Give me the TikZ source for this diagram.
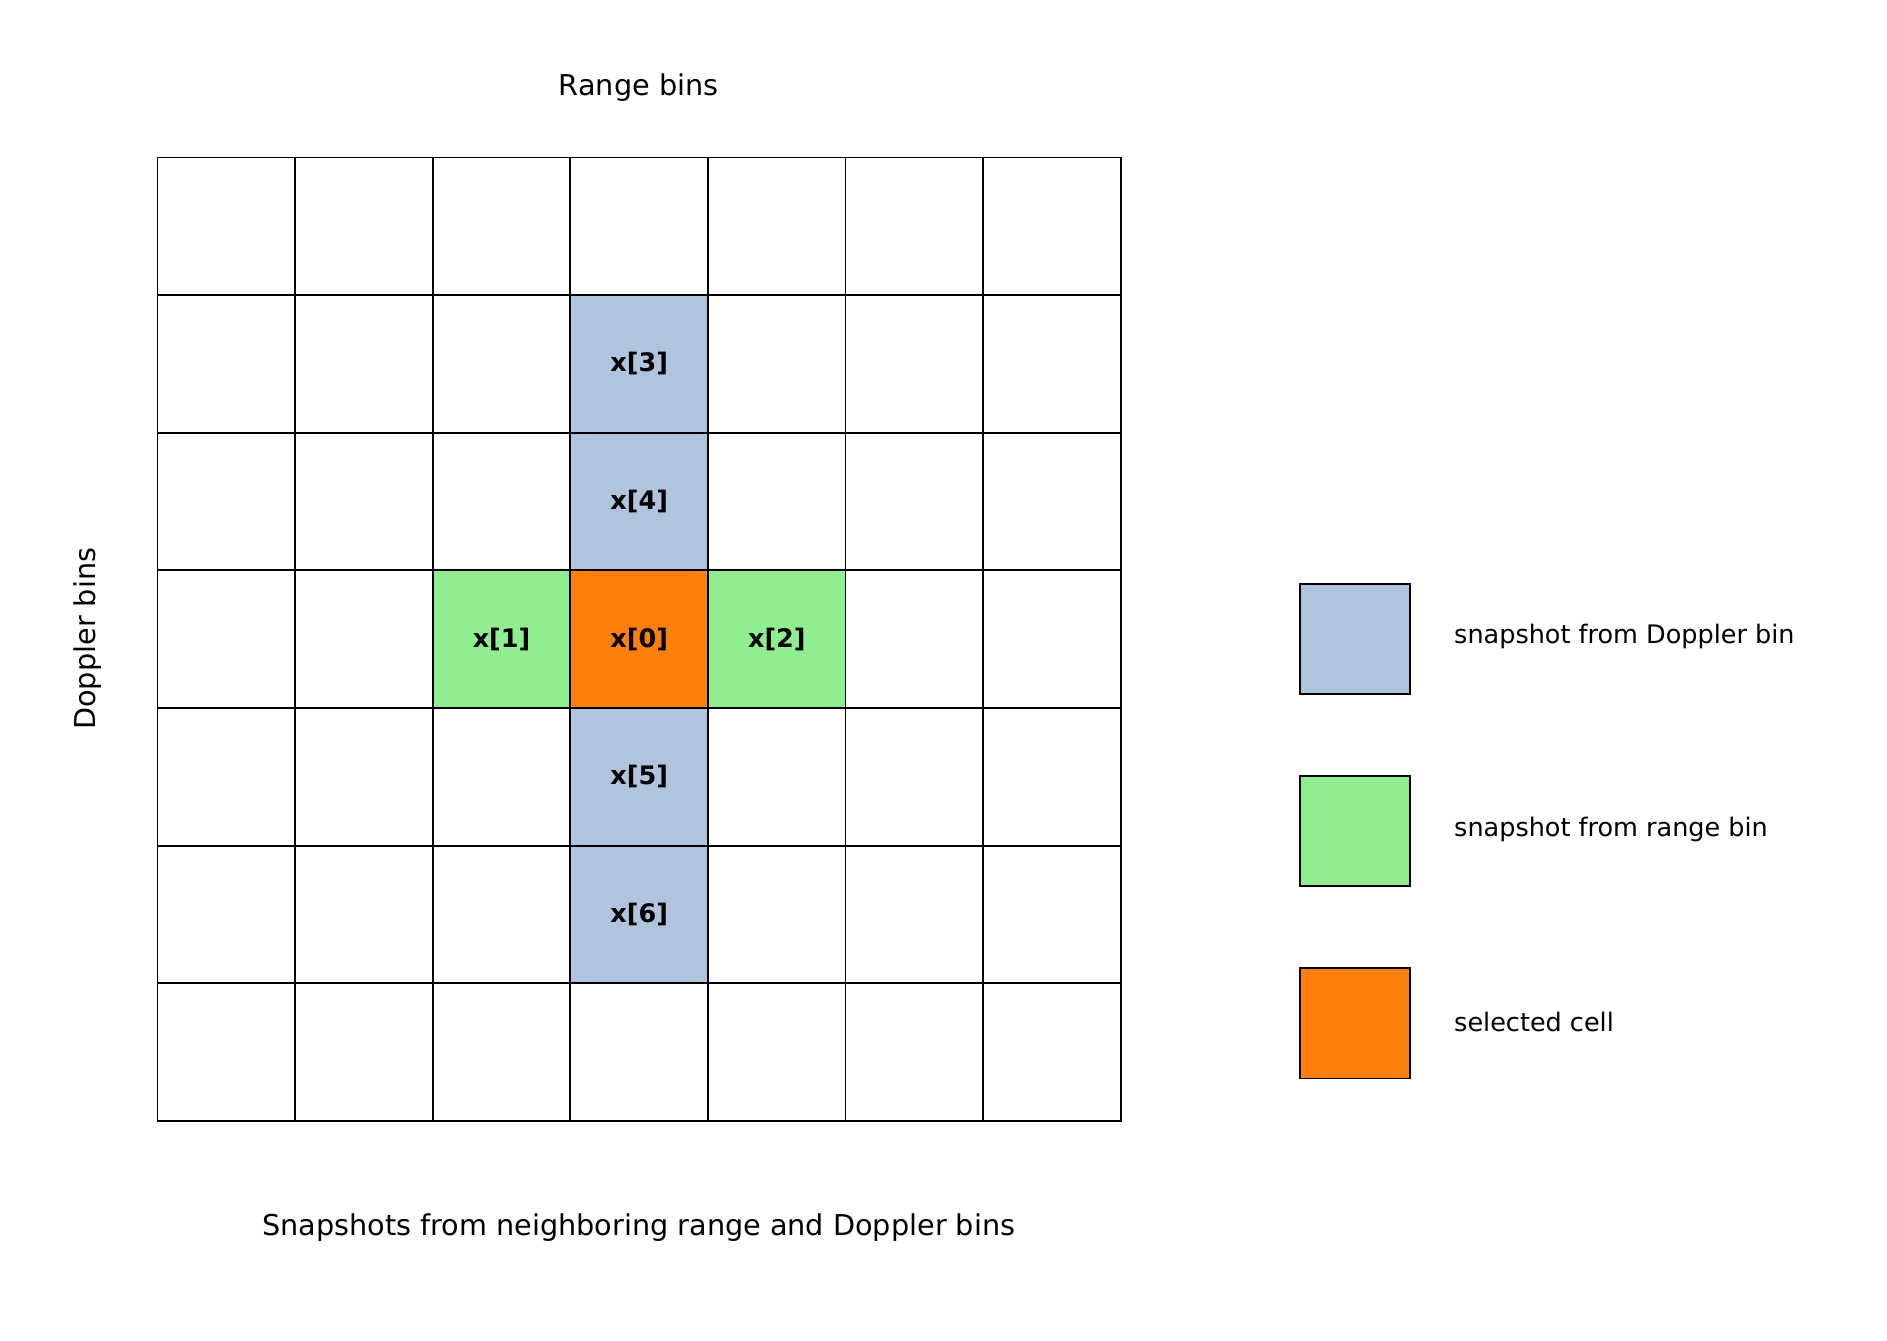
\documentclass[tikz,border=0pt]{standalone}
\usepackage{fontspec}
\setmainfont{DejaVu Sans}
\usetikzlibrary{positioning}
\definecolor{dopblue}{HTML}{B0C4DE}
\definecolor{rnggreen}{HTML}{90EE90}
\definecolor{selorange}{HTML}{FF7F0E}
\tikzset{
	cell/.style={draw, thick, minimum size=113.8*0.2mm, inner sep=0pt, font=\fontsize{12}{14}\selectfont\bfseries},
	key/.style={draw, thick, minimum size=91*0.2mm, inner sep=0pt},
	keytext/.style={anchor=west, font=\fontsize{12}{14}\selectfont},
	axis/.style={font=\fontsize{13.5}{16}\selectfont}
}
\begin{document}
\begin{tikzpicture}[x=0.2mm,y=-0.2mm]
		\useasboundingbox (0,0) rectangle (1560,1108);
		\foreach \i in {0,...,6}{
			\foreach \j in {0,...,6}{
				\node[cell] (c\i\j) at ({187+113.8*\i},{187+113.8*\j}) {};
			}
		}
		\node[cell, fill=dopblue] at (c31) {x[3]};
		\node[cell, fill=dopblue] at (c32) {x[4]};
		\node[cell, fill=dopblue] at (c34) {x[5]};
		\node[cell, fill=dopblue] at (c35) {x[6]};
		\node[cell, fill=rnggreen] at (c23) {x[1]};
		\node[cell, fill=selorange] at (c33) {x[0]};
		\node[cell, fill=rnggreen] at (c43) {x[2]};
		\node[axis] (range) at (528,72) {Range bins};
		\node[axis, rotate=90] (doppler) at (72,528) {Doppler bins};
		\node[axis] (title) at (528,1015) {Snapshots from neighboring range and Doppler bins};
		\node[key, fill=dopblue] (k1) at (1120,528) {};
		\node[key, fill=rnggreen] (k2) at (1120,687) {};
		\node[key, fill=selorange] (k3) at (1120,846) {};
		\node[keytext] at (1196,526) {snapshot from Doppler bin};
		\node[keytext] at (1196,686) {snapshot from range bin};
		\node[keytext] at (1196,845) {selected cell};
	\end{tikzpicture}
\end{document}
